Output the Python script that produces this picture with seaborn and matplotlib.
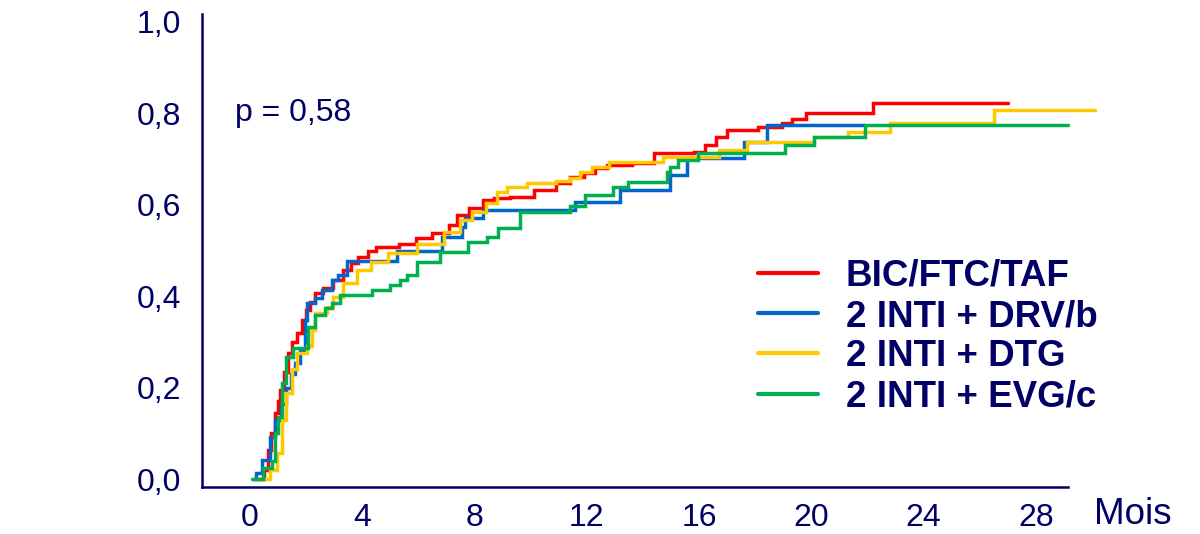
import numpy as np
import pandas as pd
import matplotlib
matplotlib.use("Agg")
import matplotlib.pyplot as plt
from matplotlib.lines import Line2D
import seaborn as sns

# Cumulative incidence curves (month, cumulative proportion), step-post
bic_t = [0.2, 0.5, 0.64, 0.75, 0.89, 1.0, 1.07, 1.2, 1.35, 1.5, 1.67, 1.85, 2.0, 2.14, 2.32, 2.6,
         2.96, 3.3, 3.6, 3.85, 4.2, 4.5, 5.3, 5.9, 6.5, 7.1, 7.37, 7.8, 8.3, 8.7, 9.26, 10.1, 10.9,
         11.4, 11.9, 12.3, 12.7, 13.6, 14.4, 15.8, 16.2, 16.6, 17.0, 18.1, 18.95, 19.3, 19.8, 22.2, 27.0]
bic_y = [0.0, 0.02, 0.063, 0.1, 0.144, 0.17, 0.195, 0.235, 0.276, 0.3, 0.32, 0.348, 0.37, 0.387,
         0.407, 0.418, 0.435, 0.457, 0.472, 0.486, 0.498, 0.508, 0.514, 0.527, 0.538, 0.556, 0.578,
         0.594, 0.61, 0.614, 0.617, 0.632, 0.648, 0.66, 0.67, 0.68, 0.687, 0.691, 0.713, 0.716, 0.73,
         0.749, 0.764, 0.77, 0.779, 0.788, 0.80, 0.822, 0.822]

drv_t = [0.1, 0.2, 0.42, 0.71, 0.9, 1.1, 1.3, 1.45, 1.6, 1.78, 1.96, 2.03, 2.32, 2.56, 2.92, 3.14,
         3.45, 5.23, 6.84, 7.55, 7.66, 8.3, 11.58, 13.18, 14.96, 15.57, 17.6, 18.4, 21.9]
drv_y = [0.0, 0.013, 0.042, 0.092, 0.13, 0.165, 0.2, 0.23, 0.254, 0.282, 0.348, 0.385, 0.396, 0.414,
         0.435, 0.446, 0.476, 0.50, 0.53, 0.551, 0.571, 0.589, 0.606, 0.632, 0.665, 0.702, 0.737,
         0.775, 0.775]

dtg_t = [0.18, 0.71, 0.95, 1.14, 1.3, 1.5, 1.67, 2.03, 2.2, 2.3, 2.74, 2.96, 3.3, 3.8, 4.3, 4.9,
         5.95, 6.9, 7.48, 7.9, 8.4, 8.8, 9.15, 9.87, 10.9, 11.4, 11.76, 12.2, 12.8, 14.7, 16.7, 17.7,
         20.1, 21.3, 22.8, 26.5, 30.1]
dtg_y = [0.0, 0.02, 0.057, 0.13, 0.188, 0.24, 0.276, 0.29, 0.326, 0.363, 0.377, 0.398, 0.428, 0.457,
         0.475, 0.494, 0.515, 0.54, 0.567, 0.585, 0.605, 0.628, 0.639, 0.648, 0.652, 0.658, 0.672,
         0.683, 0.694, 0.705, 0.72, 0.737, 0.748, 0.76, 0.779, 0.807, 0.807]

evg_t = [0.07, 0.46, 0.78, 0.89, 1.0, 1.14, 1.3, 1.53, 2.07, 2.32, 2.67, 2.92, 3.2, 4.35, 4.99, 5.34,
         5.6, 5.95, 6.77, 7.78, 8.43, 8.84, 9.62, 11.4, 11.93, 12.94, 13.47, 14.86, 14.96, 15.25,
         15.96, 19.06, 20.1, 21.9, 29.14]
evg_y = [0.0, 0.024, 0.04, 0.1, 0.136, 0.21, 0.267, 0.287, 0.333, 0.359, 0.374, 0.385, 0.403, 0.414,
         0.424, 0.435, 0.446, 0.475, 0.497, 0.518, 0.53, 0.549, 0.584, 0.597, 0.621, 0.639, 0.65,
         0.672, 0.683, 0.698, 0.713, 0.731, 0.748, 0.775, 0.775]

groups = ["BIC/FTC/TAF", "2 INTI + DRV/b", "2 INTI + DTG", "2 INTI + EVG/c"]
colors = ["#FF0000", "#0066CC", "#FFC800", "#00B050"]

x_ticks = [0, 4, 8, 12, 16, 20, 24, 28]
y_ticks = [0.0, 0.2, 0.4, 0.6, 0.8, 1.0]
y_tick_labels = ["0,0", "0,2", "0,4", "0,6", "0,8", "1,0"]
p_text = "p = 0,58"
x_label = "Mois"

frames = []
for name, t, y in zip(groups, [bic_t, drv_t, dtg_t, evg_t], [bic_y, drv_y, dtg_y, evg_y]):
    frames.append(pd.DataFrame({"mois": t, "cum": y, "groupe": name}))
df = pd.concat(frames, ignore_index=True)

sns.set_style("white")
plt.rcParams["font.family"] = ["Liberation Sans", "DejaVu Sans"]
navy = "#000066"

fig = plt.figure(figsize=(12, 5.34), dpi=100)
ax = fig.add_axes([202 / 1200, 47 / 534, (1068 - 202) / 1200, (487 - 14) / 534])

sns.lineplot(data=df, x="mois", y="cum", hue="groupe", hue_order=groups,
             palette=dict(zip(groups, colors)), estimator=None, sort=True,
             drawstyle="steps-post", linewidth=2.5, legend=False, ax=ax)
for ln in ax.get_lines():
    ln.set_clip_on(False)
    ln.set_solid_joinstyle("miter")

ax.set_xlim(-1.71, 29.14)
ax.set_ylim(-0.0175, 1.0175)
ax.set_xticks(x_ticks)
ax.set_xticklabels([str(v) for v in x_ticks])
ax.set_yticks(y_ticks)
ax.set_yticklabels(y_tick_labels)
ax.set_xlabel("")
ax.set_ylabel("")

for side in ["top", "right"]:
    ax.spines[side].set_visible(False)
for side in ["left", "bottom"]:
    ax.spines[side].set_color(navy)
    ax.spines[side].set_linewidth(1.8)
ax.tick_params(axis="both", colors=navy, labelcolor=navy, direction="out",
               length=7, width=1.6, labelsize=23)
ax.tick_params(axis="x", pad=4.5)
ax.tick_params(axis="y", pad=8)

ax.text(-0.53, 0.8, p_text, color=navy, fontsize=23, ha="left", va="center")
fig.text(1094 / 1200, 1 - 514 / 534, x_label, color=navy, fontsize=26.5, ha="left", va="center")

handles = [Line2D([0], [0], color=c, lw=3.0) for c in colors]
leg = ax.legend(handles, groups, loc="upper left", bbox_to_anchor=(758 / 1200, 1 - 259 / 534),
                bbox_transform=fig.transFigure, frameon=False, fontsize=26.5,
                handlelength=1.63, handletextpad=0.76, labelspacing=0.14,
                borderpad=0, borderaxespad=0)
for txt in leg.get_texts():
    txt.set_color(navy)
    txt.set_fontweight("bold")

fig.savefig("out.png", dpi=100)
